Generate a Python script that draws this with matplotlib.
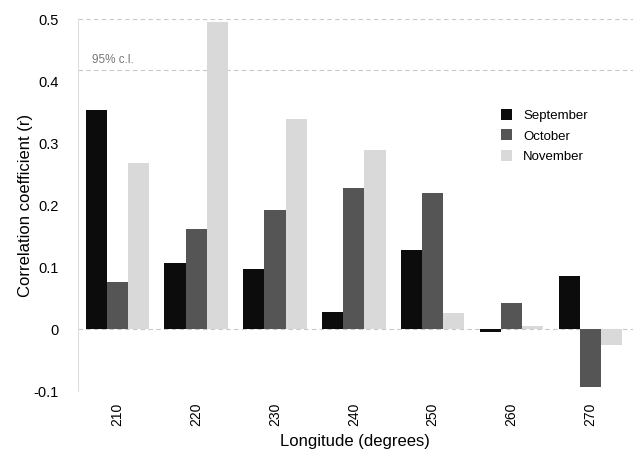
import matplotlib.pyplot as plt
import numpy as np

plt.rcParams['font.family'] = ['Liberation Sans', 'DejaVu Sans']

# longitudes and correlation values
longitudes = [210, 220, 230, 240, 250, 260, 270]
september = [0.353, 0.106, 0.097, 0.028, 0.127, -0.005, 0.086]
october = [0.076, 0.162, 0.192, 0.227, 0.220, 0.043, -0.094]
november = [0.268, 0.495, 0.339, 0.289, 0.026, 0.005, -0.026]
y_ticks = [-0.1, 0, 0.1, 0.2, 0.3, 0.4, 0.5]
y_tick_labels = ['-0.1', '0', '0.1', '0.2', '0.3', '0.4', '0.5']
cl95 = 0.418

fig = plt.figure(figsize=(6.33, 4.57), dpi=100)
ax = fig.add_axes([0.123, 0.144, 0.877, 0.814])

x = np.array(longitudes)
w = 2.68
ax.bar(x - w, september, w, color='#0c0c0c', label='September')
ax.bar(x, october, w, color='#555555', label='October')
ax.bar(x + w, november, w, color='#d9d9d9', label='November')

# dashed reference lines
for yv in [0.5, cl95, 0, -0.1]:
    ax.axhline(yv, color='#c8c8c8', lw=0.8, ls=(0, (4, 3)), zorder=0)
ax.text(206.8, cl95 + 0.012, '95% c.l.', color='#777777', fontsize=8.5)

ax.set_xlim(205, 275.4)
ax.set_ylim(-0.1, 0.5)
ax.set_xticks(longitudes)
ax.set_xticklabels([str(v) for v in longitudes], rotation=90, fontsize=10)
ax.set_yticks(y_ticks)
ax.set_yticklabels(y_tick_labels, fontsize=10.5)
ax.tick_params(length=0, pad=14)
ax.tick_params(axis='x', pad=8)

for s in ['top', 'right', 'bottom']:
    ax.spines[s].set_visible(False)
ax.spines['left'].set_color('#dddddd')

ax.set_xlabel('Longitude (degrees)', fontsize=12, labelpad=6)
ax.set_ylabel('Correlation coefficient (r)', fontsize=12, labelpad=0)

ax.legend(loc='upper left', bbox_to_anchor=(0.74, 0.79), frameon=False,
          fontsize=9.5, handlelength=0.9, handleheight=0.9, labelspacing=0.55)

fig.savefig('out.png', dpi=100)
